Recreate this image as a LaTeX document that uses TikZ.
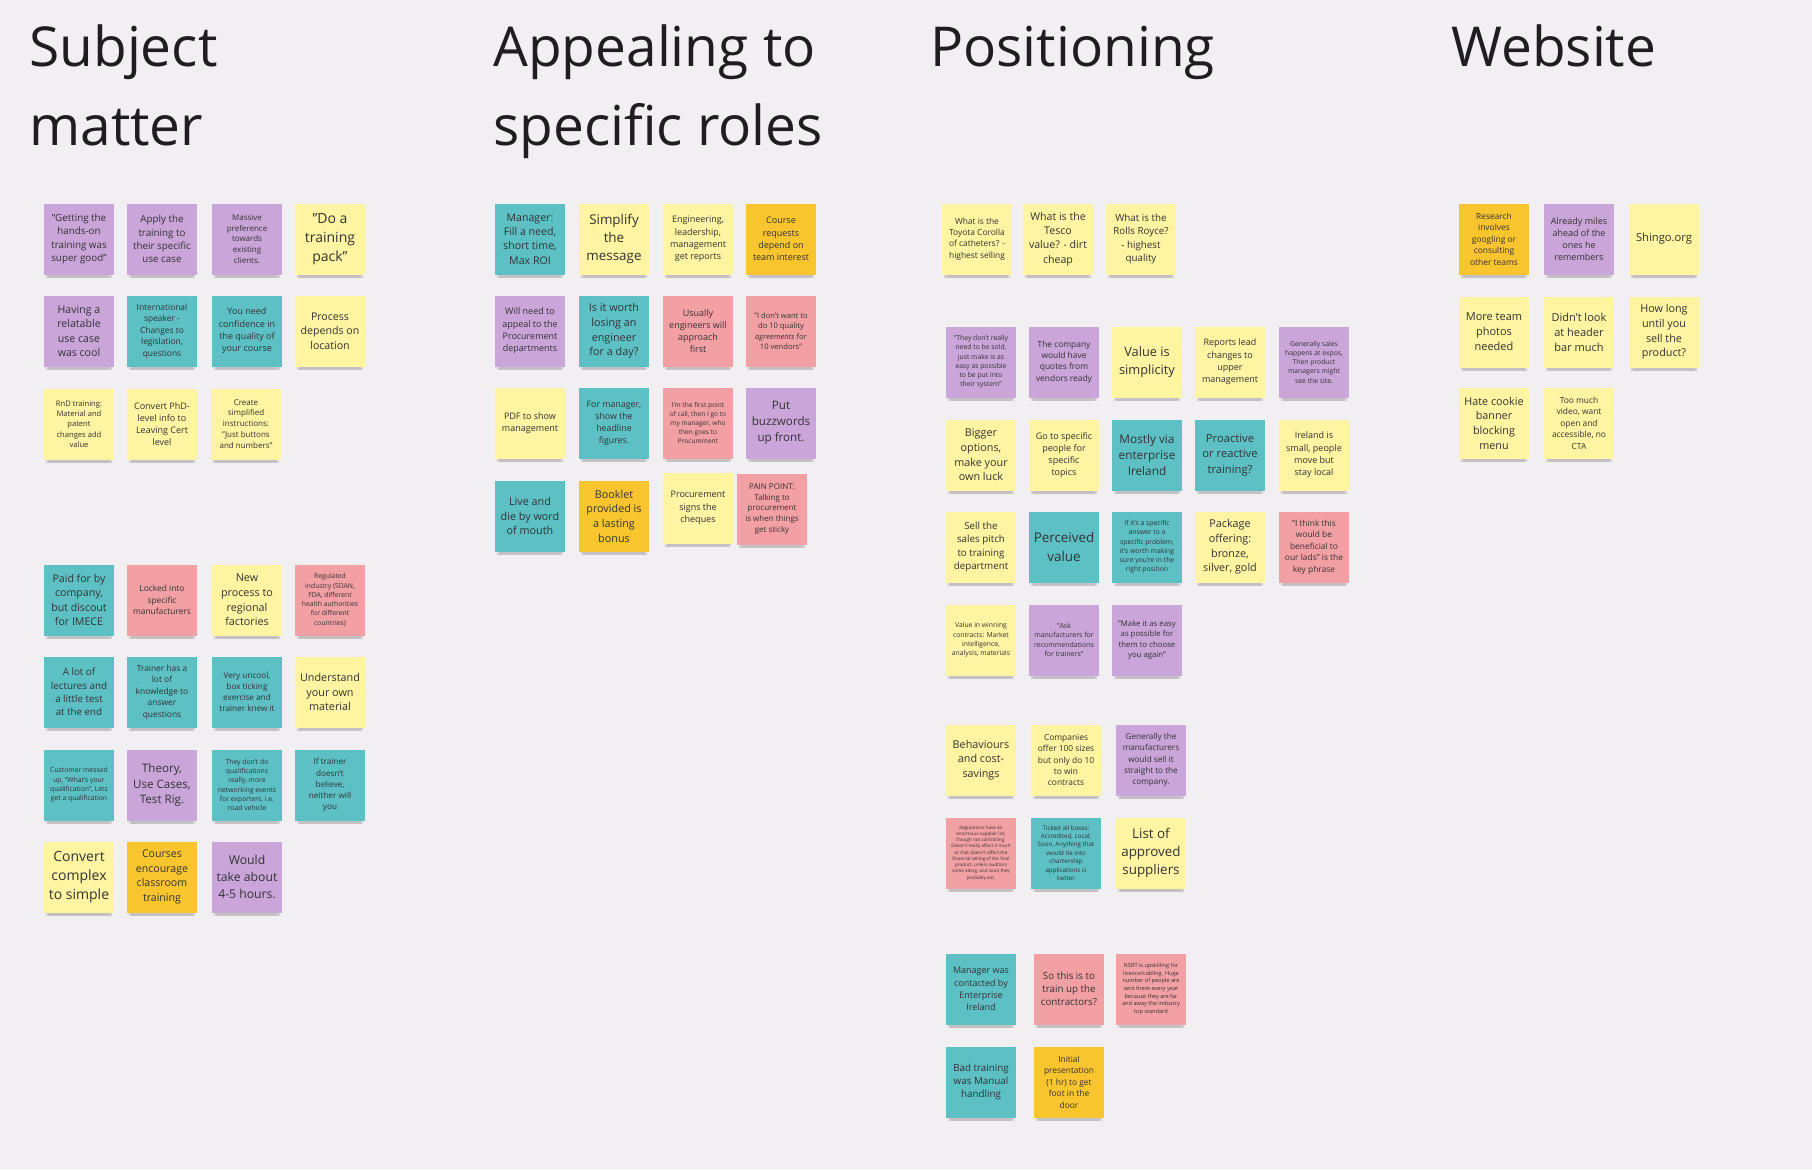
\documentclass[tikz,border=0pt]{standalone}
\usepackage{fontspec}
\setmainfont{Open Sans}
\usetikzlibrary{shadows}
\definecolor{bg}{HTML}{F2EFF3}
\definecolor{ink}{HTML}{333333}
\definecolor{titleink}{HTML}{1E1E1E}
\definecolor{pur}{HTML}{C9A5D9}
\definecolor{tea}{HTML}{5CC0C5}
\definecolor{yel}{HTML}{FEF4A2}
\definecolor{gol}{HTML}{F9C52F}
\definecolor{pin}{HTML}{F3A0A5}
\newcommand\fz[1]{\pgfmathsetlengthmacro\fzb{1.36*#1}\fontsize{#1}{\fzb}\selectfont}
\tikzset{
  note/.style={fill=#1, minimum width=35pt, minimum height=35.5pt, inner sep=1pt,
    align=center, text=ink,
    general shadow={fill=black, opacity=.08, shadow scale=.88, shadow yshift=-4.5pt},
    general shadow={fill=black, opacity=.12, shadow scale=.94, shadow yshift=-3pt}},
  fz/.style={font=\fz{#1}},
  title/.style={anchor=base west, inner sep=0, text=titleink, font=\fontsize{27.5}{39.5}\selectfont}
}
\begin{document}
\begin{tikzpicture}[x=0.5pt, y=-0.5pt]
\fill[bg] (0,0) rectangle (1812,1169);
\useasboundingbox (0,0) rectangle (1812,1169);

% titles
\node[title] (t1) at (29,66) {Subject};
\node[title] (t1b) at (29,145) {matter};
\node[title] (t2) at (493,66) {Appealing to};
\node[title] (t2b) at (493,145) {specific roles};
\node[title] (t3) at (930,66) {Positioning};
\node[title] (t4) at (1451,66) {Website};

% ---------- Subject matter, top block
\node[note=pur, fz=4.9] (s1) at (79,239) {"Getting the\\hands-on\\training was\\super good"};
\node[note=pur, fz=4.9] (s2) at (162,239) {Apply the\\training to\\their specific\\use case};
\node[note=pur, fz=4] (s3) at (247,239) {Massive\\preference\\towards\\existing\\clients.};
\node[note=yel, fz=7] (s4) at (330,239) {"Do a\\training\\pack"};
\node[note=pur, fz=5.3] (s5) at (79,331) {Having a\\relatable\\use case\\was cool};
\node[note=tea, fz=4.2] (s6) at (162,331) {International\\speaker -\\Changes to\\legislation,\\questions};
\node[note=tea, fz=4.5] (s7) at (247,331) {You need\\confidence in\\the quality of\\your course};
\node[note=yel, fz=5.3] (s8) at (330,331) {Process\\depends on\\location};
\node[note=yel, fz=3.8] (s9) at (79,424) {RnD training:\\Material and\\patent\\changes add\\value};
\node[note=yel, fz=4.5] (s10) at (162,424) {Convert PhD-\\level info to\\Leaving Cert\\level};
\node[note=yel, fz=4] (s11) at (246,424) {Create\\simplified\\instructions:\\"Just buttons\\and numbers"};

% ---------- Subject matter, bottom block
\node[note=tea, fz=5.3] (s12) at (79,600) {Paid for by\\company,\\but discout\\for IMECE};
\node[note=pin, fz=4.2] (s13) at (162,600) {Locked into\\specific\\manufacturers};
\node[note=yel, fz=5.4] (s14) at (247,600) {New\\process to\\regional\\factories};
\node[note=pin, fz=3.4] (s15) at (330,600) {Regulated\\industry (SDAN,\\FDA, different\\health authorities\\for different\\countries)};
\node[note=tea, fz=4.9] (s16) at (79,692) {A lot of\\lectures and\\a little test\\at the end};
\node[note=tea, fz=4.2] (s17) at (162,692) {Trainer has a\\lot of\\knowledge to\\answer\\questions};
\node[note=tea, fz=4.1] (s18) at (247,692) {Very uncool,\\box ticking\\exercise and\\trainer knew it};
\node[note=yel, fz=5.4] (s19) at (330,692) {Understand\\your own\\material};
\node[note=tea, fz=3.4] (s20) at (79,785) {Customer messed\\up, "What's your\\qualification", Lets\\get a qualification};
\node[note=pur, fz=5.8] (s21) at (162,785) {Theory,\\Use Cases,\\Test Rig.};
\node[note=tea, fz=3.4] (s22) at (247,785) {They don't do\\qualifications\\really, more\\networking events\\for exporters, i.e.\\road vehicle};
\node[note=tea, fz=4.1] (s23) at (330,785) {If trainer\\doesn't\\believe,\\neither will\\you};
\node[note=yel, fz=7] (s24) at (79,877) {Convert\\complex\\to simple};
\node[note=gol, fz=5.3] (s25) at (162,877) {Courses\\encourage\\classroom\\training};
\node[note=pur, fz=6.1] (s26) at (247,877) {Would\\take about\\4-5 hours.};

% ---------- Appealing to specific roles
\node[note=tea, fz=5.3] (a1) at (530,239) {Manager:\\Fill a need,\\short time,\\Max ROI};
\node[note=yel, fz=6.7] (a2) at (614,239) {Simplify\\the\\message};
\node[note=yel, fz=4.5] (a3) at (698,239) {Engineering,\\leadership,\\management\\get reports};
\node[note=gol, fz=4.5] (a4) at (781,239) {Course\\requests\\depend on\\team interest};
\node[note=pur, fz=4.5] (a5) at (530,331) {Will need to\\appeal to the\\Procurement\\departments};
\node[note=tea, fz=5.4] (a6) at (614,331) {Is it worth\\losing an\\engineer\\for a day?};
\node[note=pin, fz=4.5] (a7) at (698,331) {Usually\\engineers will\\approach\\first};
\node[note=pin, fz=3.8] (a8) at (781,331) {"I don't want to\\do 10 quality\\\textit{agreements} for\\10 vendors"};
\node[note=yel, fz=4.5] (a9) at (530,423) {PDF to show\\management};
\node[note=tea, fz=4.4] (a10) at (614,423) {For manager,\\show the\\headline\\figures.};
\node[note=pin, fz=3.3] (a11) at (698,423) {I'm the first point\\of call, then I go to\\my manager, who\\then goes to\\Procurement};
\node[note=pur, fz=5.8] (a12) at (781,423) {Put\\buzzwords\\up front.};
\node[note=tea, fz=5.4] (a13) at (530,516) {Live and\\die by word\\of mouth};
\node[note=gol, fz=5.4] (a14) at (614,516) {Booklet\\provided is\\a lasting\\bonus};
\node[note=yel, fz=4.5] (a15) at (698,508) {Procurement\\signs the\\cheques};
\node[note=pin, fz=4] (a16) at (772,509) {PAIN POINT:\\Talking to\\procurement\\is when things\\get sticky};

% ---------- Positioning
\node[note=yel, fz=4.2] (p1) at (977,239) {What is the\\Toyota Corolla\\of catheters? -\\highest selling};
\node[note=yel, fz=5.3] (p2) at (1058,239) {What is the\\Tesco\\value? - dirt\\cheap};
\node[note=yel, fz=4.9] (p3) at (1141,239) {What is the\\Rolls Royce?\\- highest\\quality};

\node[note=pur, fz=3.4] (p4) at (981,362) {"They don't really\\need to be sold,\\just make is as\\easy as possible\\to be put into\\their system"};
\node[note=pur, fz=4.2] (p5) at (1064,362) {The company\\would have\\quotes from\\vendors ready};
\node[note=yel, fz=6.4] (p6) at (1147,362) {Value is\\simplicity};
\node[note=yel, fz=4.5] (p7) at (1230,362) {Reports lead\\changes to\\upper\\management};
\node[note=pur, fz=3.4] (p8) at (1314,362) {Generally sales\\happens at expos,\\Then product\\managers might\\see the site.};

\node[note=yel, fz=5.4] (p9) at (981,455) {Bigger\\options,\\make your\\own luck};
\node[note=yel, fz=4.5] (p10) at (1064,455) {Go to specific\\people for\\specific\\topics};
\node[note=tea, fz=5.9] (p11) at (1147,455) {Mostly via\\enterprise\\Ireland};
\node[note=tea, fz=5.6] (p12) at (1230,455) {Proactive\\or reactive\\training?};
\node[note=yel, fz=4.5] (p13) at (1314,455) {Ireland is\\small, people\\move but\\stay local};

\node[note=yel, fz=4.9] (p14) at (981,547) {Sell the\\sales pitch\\to training\\department};
\node[note=tea, fz=6.7] (p15) at (1064,547) {Perceived\\value};
\node[note=tea, fz=3.4] (p16) at (1147,547) {If it's a specific\\answer to a\\specific problem,\\it's worth making\\sure you're in the\\right position};
\node[note=yel, fz=5.4] (p17) at (1230,547) {Package\\offering:\\bronze,\\silver, gold};
\node[note=pin, fz=4.2] (p18) at (1314,547) {"I think this\\would be\\beneficial to\\our lads" is the\\key phrase};

\node[note=yel, fz=3.4] (p19) at (981,640) {Value in winning\\contracts: Market\\intelligence,\\analysis, materials};
\node[note=pur, fz=3.5] (p20) at (1064,640) {"Ask\\manufacturers for\\recommendations\\for trainers"};
\node[note=pur, fz=3.9] (p21) at (1147,640) {"Make it as easy\\as possible for\\them to choose\\you again"};

\node[note=yel, fz=5.4] (p22) at (981,760) {Behaviours\\and cost-\\savings};
\node[note=yel, fz=4.2] (p23) at (1066,760) {Companies\\offer 100 sizes\\but only do 10\\to win\\contracts};
\node[note=pur, fz=4.1] (p24) at (1151,760) {Generally the\\manufacturers\\would sell it\\straight to the\\company.};
\node[note=pin, fz=2.3] (p25) at (981,853) {Regulations have an\\enormous supplier list,\\though not controlling.\\Doesn't really affect it much\\or that doesn't affect the\\financial selling of the final\\product, unless auditors\\come along, and soon they\\probably eat.};
\node[note=tea, fz=3.1] (p26) at (1066,853) {Ticked all boxes:\\Accredited, Local,\\Soon, Anything that\\would tie into\\chartership\\applications is\\better};
\node[note=yel, fz=6.7] (p27) at (1151,853) {List of\\approved\\suppliers};

\node[note=tea, fz=4.5] (p28) at (981,989) {Manager was\\contacted by\\Enterprise\\Ireland};
\node[note=pin, fz=4.9] (p29) at (1069,989) {So this is to\\train up the\\contractors?};
\node[note=pin, fz=2.8] (p30) at (1151,989) {NSRT is upskilling for\\licence/cabling. Huge\\number of people are\\sent there every year\\because they are far\\and away the industry\\top standard};
\node[note=tea, fz=4.9] (p31) at (981,1082) {Bad training\\was Manual\\handling};
\node[note=gol, fz=4.2] (p32) at (1069,1082) {Initial\\presentation\\(1 hr) to get\\foot in the\\door};

% ---------- Website
\node[note=gol, fz=4.2] (w1) at (1494,239) {Research\\involves\\googling or\\consulting\\other teams};
\node[note=pur, fz=4.5] (w2) at (1579,239) {Already miles\\ahead of the\\ones he\\remembers};
\node[note=yel, fz=5.6] (w3) at (1664,239) {Shingo.org};
\node[note=yel, fz=5.5] (w4) at (1494,332) {More team\\photos\\needed};
\node[note=yel, fz=5.5] (w5) at (1579,332) {Didn't look\\at header\\bar much};
\node[note=yel, fz=5.4] (w6) at (1664,332) {How long\\until you\\sell the\\product?};
\node[note=yel, fz=5.4] (w7) at (1494,423) {Hate cookie\\banner\\blocking\\menu};
\node[note=yel, fz=4.2] (w8) at (1579,423) {Too much\\video, want\\open and\\accessible, no\\CTA};
\end{tikzpicture}
\end{document}
